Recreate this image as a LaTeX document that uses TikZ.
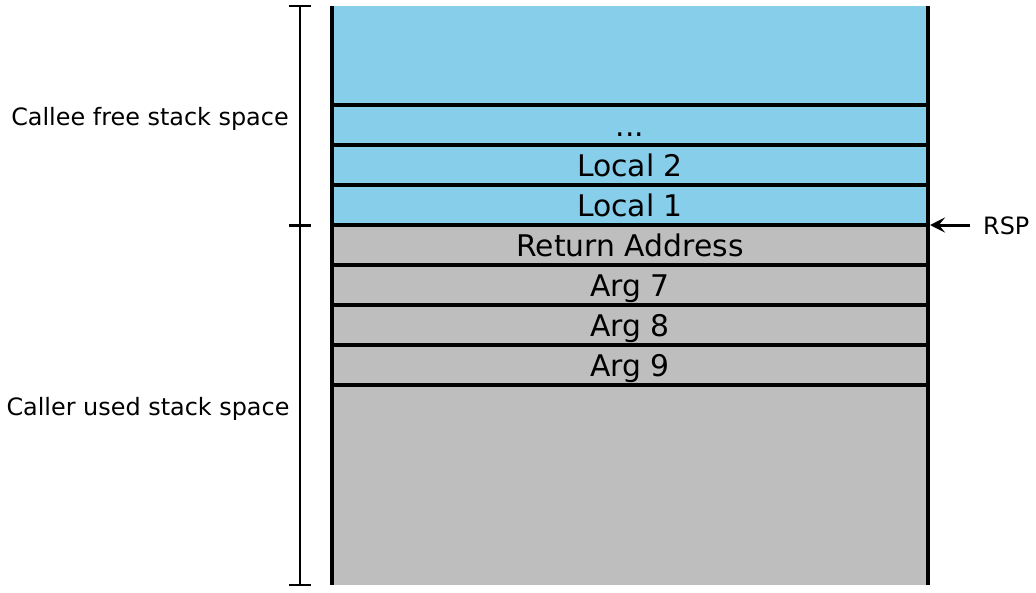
\documentclass[tikz,border=0pt]{standalone}
\usepackage{fontspec}
\setmainfont{DejaVu Sans}
\usetikzlibrary{arrows.meta}
\definecolor{calleeblue}{RGB}{135,206,235}
\definecolor{callergray}{RGB}{190,190,190}
\begin{document}
\begin{tikzpicture}[x=1pt,y=-1pt,
  cell/.style={anchor=north west,minimum width=596pt,inner sep=0pt,outer sep=0pt,
    font=\fontsize{29.8}{30}\selectfont,text height=22pt,text depth=0pt},
  callee/.style={cell,fill=calleeblue},
  caller/.style={cell,fill=callergray},
  sep/.style={line width=3.3pt},
  wall/.style={line width=4pt},
  brace/.style={line width=2pt},
  sidelabel/.style={font=\fontsize{23.9}{24}\selectfont,inner sep=0pt,anchor=base}]
\useasboundingbox (0,0) rectangle (1036,592);

% stack frame cells, top to bottom
\node[callee,minimum height=99pt] (top) at (332,6) {};
\node[callee,minimum height=40pt] (dots) at (332,105) {...};
\node[callee,minimum height=40pt] (l2) at (332,145) {Local 2};
\node[callee,minimum height=40pt] (l1) at (332,185) {Local 1};
\node[caller,minimum height=40pt] (ret) at (332,225) {Return Address};
\node[caller,minimum height=40pt] (a7) at (332,265) {Arg 7};
\node[caller,minimum height=40pt] (a8) at (332,305) {Arg 8};
\node[caller,minimum height=40pt] (a9) at (332,345) {Arg 9};
\node[caller,minimum height=200pt] (bot) at (332,385) {};

% separators between cells
\foreach \c in {top,dots,l2,l1,ret,a7,a8,a9}
  \draw[sep] (\c.south west) -- (\c.south east);

% stack walls
\draw[wall] (top.north west) -- (bot.south west);
\draw[wall] (top.north east) -- (bot.south east);

% region brackets
\coordinate (bt) at (300,6);
\coordinate (bm) at (300,225);
\coordinate (bb) at (300,585);
\draw[brace] (bt) -- (bb);
\draw[brace] ([xshift=-11pt]bt) -- ([xshift=11pt]bt);
\draw[brace] ([xshift=-11pt]bb) -- ([xshift=11pt]bb);
\draw[line width=3pt] ([xshift=-11pt]bm) -- ([xshift=11pt]bm);

\node[sidelabel] (callee) at (150,125) {Callee free stack space};
\node[sidelabel] (caller) at (148,415) {Caller used stack space};

% stack pointer
\node[sidelabel,anchor=base west] (rsp) at (983,234) {RSP};
\coordinate (rspstart) at (970,225);
\draw[line width=3pt,-{Stealth[length=15pt,width=15pt,inset=6pt]}] (rspstart) -- ([xshift=2pt]l1.south east);
\end{tikzpicture}
\end{document}
